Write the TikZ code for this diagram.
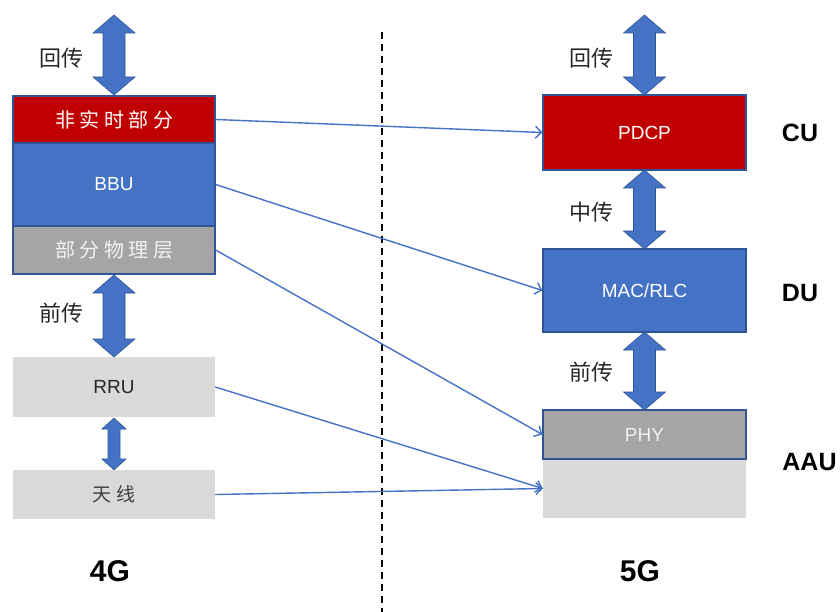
\documentclass[tikz,border=0pt]{standalone}
\usepackage{fontspec}
\usetikzlibrary{arrows.meta}
\newfontfamily\cjk{Noto Sans CJK SC}
\newfontfamily\lat{Liberation Sans}
\definecolor{cred}{HTML}{C00000}
\definecolor{cblue}{HTML}{4472C4}
\definecolor{cbord}{HTML}{2F5597}
\definecolor{cgray}{HTML}{A5A5A5}
\definecolor{clight}{HTML}{D9D9D9}
\definecolor{ctxt}{HTML}{262626}
\newcommand{\bigdarrow}[6]{%
  \filldraw[bigarr] (#1,#2) -- (#1+#4,#2+#6) -- (#1+#5,#2+#6) -- (#1+#5,#3-#6) -- (#1+#4,#3-#6) -- (#1,#3) -- (#1-#4,#3-#6) -- (#1-#5,#3-#6) -- (#1-#5,#2+#6) -- (#1-#4,#2+#6) -- cycle;}
\tikzset{
  box/.style={rectangle, inner sep=0pt, minimum width=202pt},
  bbox/.style={box, draw=cbord, line width=1.2pt},
  bigarr/.style={fill=cblue, draw=cbord, line width=0.6pt},
  conn/.style={draw=cblue, line width=1.4pt, -{Straight Barb[length=6pt,width=12pt]}},
  lbl/.style={font=\cjk\fontsize{22}{24}\selectfont, text=ctxt},
  latt/.style={font=\lat\fontsize{19}{21}\selectfont},
  big/.style={font=\lat\bfseries\fontsize{25}{28}\selectfont, text=black},
}
\begin{document}
\begin{tikzpicture}[x=1pt,y=-1pt]
\useasboundingbox (0,0) rectangle (840,612);
% big arrows
\bigdarrow{114}{15}{95}{21}{11}{18}
\bigdarrow{114}{275}{357}{21}{11}{18}
\bigdarrow{114}{418}{470}{12}{6}{11}
\bigdarrow{644.5}{15}{95}{21}{11}{18}
\bigdarrow{644.5}{170}{249}{21}{11}{18}
\bigdarrow{644.5}{332}{410}{21}{11}{18}
% left column
\node[bbox, fill=cred, minimum height=47pt, text=white, font=\cjk\fontsize{20}{22}\selectfont] (nrt) at (114,119.5) {非\hspace{4.5pt}实\hspace{4.5pt}时\hspace{4.5pt}部\hspace{4.5pt}分};
\node[bbox, fill=cblue, minimum height=83pt, text=white, latt] (bbu) at (114,184.5) {BBU};
\node[bbox, fill=cgray, minimum height=48pt, text=white!95!black, font=\cjk\fontsize{20}{22}\selectfont] (pphy) at (114,250) {部\hspace{4.5pt}分\hspace{4.5pt}物\hspace{4.5pt}理\hspace{4.5pt}层};
\node[box, fill=clight, minimum height=60pt, text=ctxt, latt] (rru) at (114,387) {RRU};
\node[box, fill=clight, minimum height=49pt, text=black!75, font=\cjk\fontsize{19}{21}\selectfont] (ant) at (114,494.5) {天\hspace{6pt}线};
% right column
\node[box, fill=clight, minimum width=203pt, minimum height=59pt] (aau) at (644.5,488.5) {};
\node[bbox, fill=cred, minimum width=203pt, minimum height=75pt, text=white, latt] (pdcp) at (644.5,132.5) {PDCP};
\node[bbox, fill=cblue, minimum width=203pt, minimum height=83pt, text=white, latt] (mac) at (644.5,290.5) {MAC/RLC};
\node[bbox, fill=cgray, minimum width=203pt, minimum height=49pt, text=white!95!black, latt] (phy) at (644.5,434.5) {PHY};
% labels
\node[lbl] (l1) at (61,58) {回传};
\node[lbl] (l2) at (61,313) {前传};
\node[lbl] (r1) at (591,58) {回传};
\node[lbl] (r2) at (591,212) {中传};
\node[lbl] (r3) at (591,372) {前传};
\node[big] (cu) at (800,133) {CU};
\node[big] (du) at (800,293) {DU};
\node[big] (aaul) at (809.5,462) {AAU};
\node[big, font=\lat\bfseries\fontsize{30}{32}\selectfont] (g4) at (110,571) {4G};
\node[big, font=\lat\bfseries\fontsize{30}{32}\selectfont] (g5) at (640,571) {5G};
% divider
\coordinate (dtop) at (382,32);
\coordinate (dbot) at (382,612);
\draw[black, line width=1.6pt, dash pattern=on 7pt off 5pt] (dtop) -- (dbot);
% connectors
\draw[conn] (nrt.east) -- (pdcp.west);
\draw[conn] (bbu.east) -- (mac.west);
\draw[conn] (pphy.east) -- (phy.west);
\draw[conn] (rru.east) -- (aau.west);
\draw[conn] (ant.east) -- (aau.west);
\end{tikzpicture}
\end{document}
